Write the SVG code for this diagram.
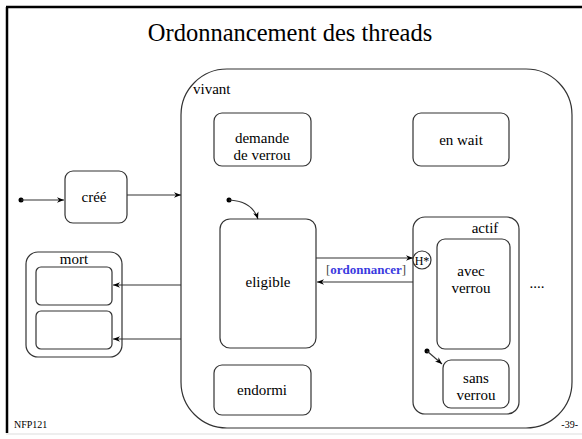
<svg xmlns="http://www.w3.org/2000/svg" width="582" height="439" viewBox="0 0 582 439" font-family="'Liberation Serif', 'Times New Roman', serif">
<defs>
<marker id="ah" viewBox="0 0 10 10" refX="10" refY="5" markerWidth="7" markerHeight="7" orient="auto" markerUnits="userSpaceOnUse">
<path d="M0,1 L10,5 L0,9 L3,5 Z" fill="#000"/>
</marker>
<style>
.st{fill:#fff;stroke:#333;stroke-width:1.2}
.t{font-size:15px;fill:#000;text-anchor:middle}
.c{fill:none;stroke:#333;stroke-width:1.1}
</style>
</defs>
<rect x="0" y="0" width="582" height="439" fill="#fff"/>
<line x1="7" y1="7" x2="7" y2="433" stroke="#000" stroke-width="2.5"/>
<line x1="6" y1="7" x2="582" y2="7" stroke="#000" stroke-width="2.5"/>
<line x1="6" y1="434" x2="582" y2="434" stroke="#ddd" stroke-width="1"/>
<text x="290" y="41" font-size="24.5" text-anchor="middle">Ordonnancement des threads</text>

<g id="vivant">
<rect x="181" y="69" width="391" height="359" rx="46" ry="46" class="st"/>
<text x="193" y="94" font-size="15">vivant</text>
</g>
<g id="demande">
<rect x="214" y="113" width="97" height="53" rx="8" class="st"/>
<text x="262" y="143" class="t">demande</text>
<text x="262" y="160" class="t">de verrou</text>
</g>
<g id="enwait">
<rect x="413" y="113" width="96" height="53" rx="8" class="st"/>
<text x="461" y="145" class="t">en wait</text>
</g>
<g id="cree">
<rect x="65" y="171" width="62" height="52" rx="8" class="st"/>
<text x="94" y="202" class="t">créé</text>
</g>
<g id="mort">
<rect x="26" y="252" width="96" height="105" rx="12" class="st"/>
<text x="74" y="264" class="t">mort</text>
<rect x="36" y="267" width="76" height="38" rx="5" class="st"/>
<rect x="36" y="311" width="76" height="38" rx="5" class="st"/>
</g>
<g id="eligible">
<rect x="220" y="219" width="96" height="129" rx="10" class="st"/>
<text x="268" y="287" class="t">eligible</text>
</g>
<g id="endormi">
<rect x="214" y="365" width="97" height="50" rx="8" class="st"/>
<text x="262" y="395" class="t">endormi</text>
</g>
<g id="actif">
<rect x="413" y="217" width="106" height="197" rx="12" class="st"/>
<text x="485" y="233" class="t">actif</text>
</g>
<g id="avec">
<rect x="437" y="239" width="73" height="110" rx="8" class="st"/>
<text x="471" y="276" class="t">avec</text>
<text x="471" y="293" class="t">verrou</text>
</g>
<g id="sans">
<rect x="443" y="360" width="66" height="48" rx="8" class="st"/>
<text x="476" y="383" class="t">sans</text>
<text x="476" y="400" class="t">verrou</text>
</g>
<g id="history">
<circle cx="422" cy="260" r="9" class="st"/>
<text x="422" y="265" font-size="12" text-anchor="middle">H*</text>
</g>
<text x="537" y="288" class="t">....</text>

<g id="connectors">
<circle cx="21" cy="200" r="2.5" fill="#000"/>
<line x1="21" y1="200" x2="64" y2="200" class="c" marker-end="url(#ah)"/>
<line x1="127" y1="195" x2="181" y2="195" class="c" marker-end="url(#ah)"/>
<line x1="181" y1="285" x2="113" y2="285" class="c" marker-end="url(#ah)"/>
<line x1="181" y1="339" x2="113" y2="339" class="c" marker-end="url(#ah)"/>
<circle cx="229" cy="200" r="2.5" fill="#000"/>
<path d="M229,200 Q252,201 258,219" class="c" marker-end="url(#ah)"/>
<line x1="316" y1="258" x2="413" y2="258" class="c" marker-end="url(#ah)"/>
<line x1="413" y1="282" x2="317" y2="282" class="c" marker-end="url(#ah)"/>
<circle cx="427" cy="351" r="2.5" fill="#000"/>
<line x1="427" y1="351" x2="442" y2="364" class="c" marker-end="url(#ah)"/>
<text x="366" y="274" font-size="13" text-anchor="middle"><tspan fill="#444">[</tspan><tspan fill="#3a3ae0" font-weight="bold">ordonnancer</tspan><tspan fill="#444">]</tspan></text>
</g>

<text x="14" y="428" font-size="10">NFP121</text>
<text x="578" y="428" font-size="10" text-anchor="end">-39-</text>
</svg>
